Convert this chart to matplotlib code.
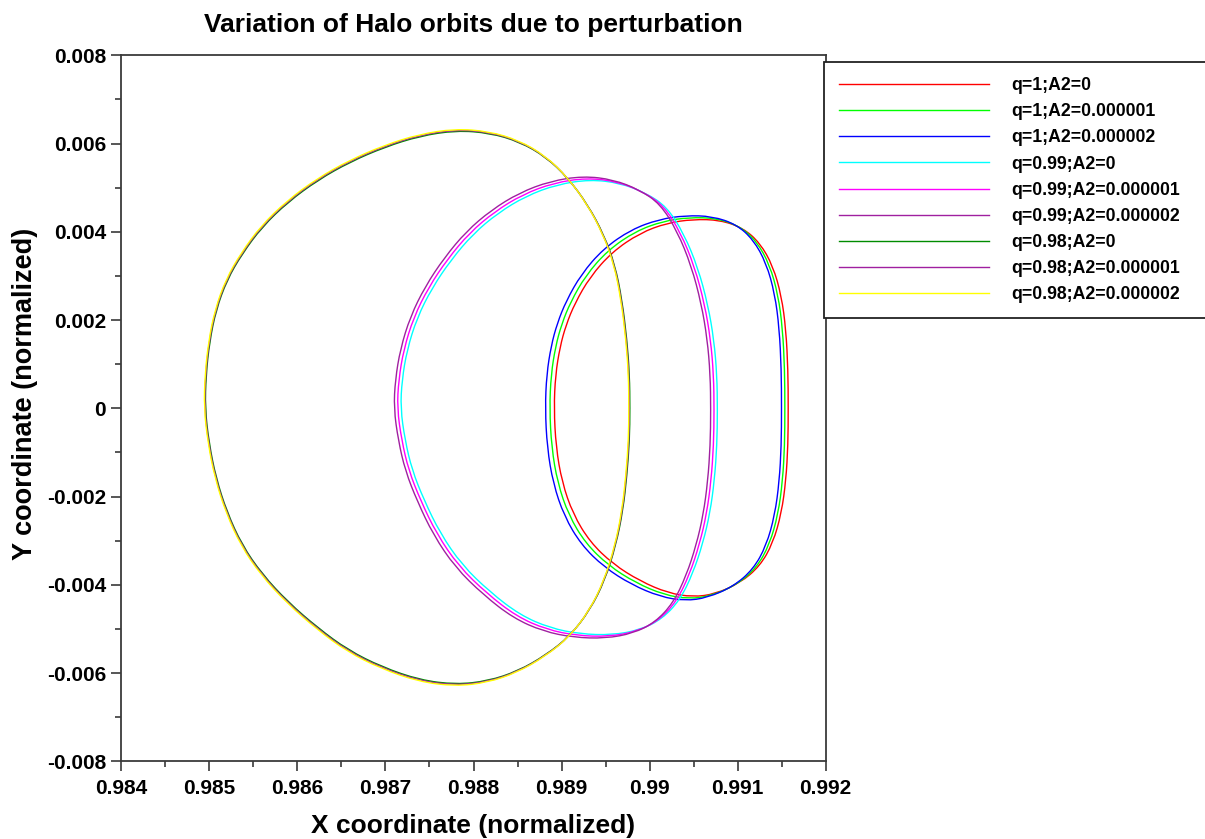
import matplotlib
matplotlib.use("Agg")
import matplotlib.pyplot as plt
import numpy as np
from matplotlib.path import Path
from matplotlib.patches import PathPatch
from matplotlib.ticker import AutoMinorLocator

plt.rcParams['font.family'] = ['Liberation Sans', 'DejaVu Sans']
plt.rcParams['font.weight'] = 'bold'

# orbit samples: x in normalized units, y in units of 1e-3

# q = 1
x_q100_a0 = [0.988914, 0.988931, 0.988982, 0.989051, 0.989153, 0.989323, 0.989573, 0.989891, 0.990198,
             0.990493, 0.990800, 0.991061, 0.991254, 0.991401, 0.991498, 0.991549, 0.991572, 0.991575,
             0.991572, 0.991549, 0.991498, 0.991401, 0.991254, 0.991027, 0.990743, 0.990493, 0.990209,
             0.989891, 0.989584, 0.989323, 0.989130, 0.989005, 0.988937]
y_q100_a0 = [0.000, 0.755, 1.389, 1.888, 2.386, 2.976, 3.542, 3.973, 4.199, 4.283, 4.267, 4.086, 3.746,
             3.225, 2.545, 1.775, 0.868, 0.000, -0.832, -1.625, -2.373, -3.053, -3.574, -3.959, -4.209,
             -4.276, -4.186, -3.914, -3.529, -3.030, -2.395, -1.670, -0.877]

x_q100_a1 = [0.988864, 0.988881, 0.988932, 0.989001, 0.989103, 0.989273, 0.989523, 0.989841, 0.990154,
             0.990449, 0.990756, 0.991023, 0.991216, 0.991363, 0.991460, 0.991511, 0.991534, 0.991537,
             0.991534, 0.991511, 0.991460, 0.991363, 0.991216, 0.990989, 0.990699, 0.990449, 0.990165,
             0.989841, 0.989534, 0.989273, 0.989080, 0.988955, 0.988887]
y_q100_a1 = [0.000, 0.763, 1.403, 1.907, 2.410, 3.006, 3.577, 4.013, 4.241, 4.326, 4.310, 4.127, 3.783,
             3.257, 2.570, 1.793, 0.877, 0.000, -0.840, -1.641, -2.397, -3.084, -3.610, -3.999, -4.251,
             -4.319, -4.228, -3.953, -3.564, -3.060, -2.419, -1.687, -0.886]

x_q100_a2 = [0.988814, 0.988831, 0.988882, 0.988951, 0.989053, 0.989223, 0.989473, 0.989791, 0.990110,
             0.990405, 0.990712, 0.990985, 0.991178, 0.991325, 0.991422, 0.991473, 0.991496, 0.991499,
             0.991496, 0.991473, 0.991422, 0.991325, 0.991178, 0.990951, 0.990655, 0.990405, 0.990121,
             0.989791, 0.989484, 0.989223, 0.989030, 0.988905, 0.988837]
y_q100_a2 = [0.000, 0.770, 1.417, 1.926, 2.434, 3.036, 3.613, 4.052, 4.283, 4.369, 4.352, 4.168, 3.821,
             3.290, 2.596, 1.811, 0.885, 0.000, -0.849, -1.658, -2.420, -3.114, -3.645, -4.038, -4.293,
             -4.362, -4.270, -3.992, -3.600, -3.091, -2.443, -1.703, -0.895]

# q = 0.99
x_q099_a0 = [0.987171, 0.987188, 0.987245, 0.987358, 0.987529, 0.987744, 0.987994, 0.988278, 0.988596,
             0.988948, 0.989323, 0.989664, 0.989959, 0.990198, 0.990391, 0.990550, 0.990663, 0.990731,
             0.990765, 0.990771, 0.990765, 0.990737, 0.990686, 0.990606, 0.990493, 0.990345, 0.990141,
             0.989891, 0.989573, 0.989210, 0.988869, 0.988528, 0.988187, 0.987869, 0.987620, 0.987438,
             0.987302, 0.987222]
y_q099_a0 = [0.000, 0.641, 1.321, 2.046, 2.726, 3.361, 3.950, 4.426, 4.811, 5.072, 5.185, 5.106, 4.879,
             4.562, 3.950, 3.180, 2.341, 1.548, 0.755, -0.039, -0.832, -1.625, -2.373, -3.053, -3.733,
             -4.344, -4.775, -5.024, -5.138, -5.115, -4.979, -4.684, -4.163, -3.551, -2.826, -2.078,
             -1.398, -0.718]

x_q099_a1 = [0.987133, 0.987150, 0.987207, 0.987320, 0.987491, 0.987706, 0.987956, 0.988240, 0.988558,
             0.988910, 0.989285, 0.989626, 0.989921, 0.990160, 0.990353, 0.990512, 0.990625, 0.990693,
             0.990727, 0.990733, 0.990727, 0.990699, 0.990648, 0.990568, 0.990455, 0.990307, 0.990103,
             0.989853, 0.989535, 0.989172, 0.988831, 0.988490, 0.988149, 0.987831, 0.987582, 0.987400,
             0.987264, 0.987184]
y_q099_a1 = [0.000, 0.645, 1.330, 2.060, 2.745, 3.385, 3.978, 4.457, 4.845, 5.108, 5.221, 5.142, 4.913,
             4.594, 3.978, 3.202, 2.357, 1.559, 0.760, -0.039, -0.838, -1.636, -2.390, -3.074, -3.759,
             -4.374, -4.808, -5.059, -5.174, -5.151, -5.014, -4.717, -4.192, -3.576, -2.846, -2.093,
             -1.408, -0.723]

x_q099_a2 = [0.987095, 0.987112, 0.987169, 0.987282, 0.987453, 0.987668, 0.987918, 0.988202, 0.988520,
             0.988872, 0.989247, 0.989588, 0.989883, 0.990122, 0.990315, 0.990474, 0.990587, 0.990655,
             0.990689, 0.990695, 0.990689, 0.990661, 0.990610, 0.990530, 0.990417, 0.990269, 0.990065,
             0.989815, 0.989497, 0.989134, 0.988793, 0.988452, 0.988111, 0.987793, 0.987544, 0.987362,
             0.987226, 0.987146]
y_q099_a2 = [0.000, 0.651, 1.341, 2.077, 2.767, 3.411, 4.009, 4.492, 4.883, 5.148, 5.263, 5.183, 4.952,
             4.630, 4.009, 3.228, 2.376, 1.571, 0.766, -0.040, -0.844, -1.649, -2.409, -3.099, -3.789,
             -4.409, -4.847, -5.099, -5.215, -5.192, -5.054, -4.754, -4.225, -3.604, -2.868, -2.109,
             -1.419, -0.729]

# q = 0.98
x_q098_a0 = [0.984951, 0.984962, 0.985002, 0.985076, 0.985200, 0.985371, 0.985598, 0.985893, 0.986234,
             0.986597, 0.986995, 0.987392, 0.987801, 0.988187, 0.988528, 0.988823, 0.989073, 0.989300,
             0.989482, 0.989607, 0.989687, 0.989743, 0.989772, 0.989777, 0.989772, 0.989743, 0.989698,
             0.989618, 0.989493, 0.989323, 0.989096, 0.988823, 0.988505, 0.988165, 0.987801, 0.987392,
             0.986961, 0.986575, 0.986234, 0.985893, 0.985598, 0.985371, 0.985200, 0.985076, 0.984996]
y_q098_a0 = [0.000, 0.755, 1.503, 2.228, 2.908, 3.497, 4.109, 4.675, 5.174, 5.582, 5.922, 6.171, 6.296,
             6.239, 6.035, 5.695, 5.219, 4.607, 3.927, 3.248, 2.454, 1.548, 0.755, 0.000, -0.718, -1.512,
             -2.305, -3.098, -3.891, -4.571, -5.160, -5.591, -5.954, -6.180, -6.259, -6.158, -5.863,
             -5.478, -4.979, -4.390, -3.755, -3.098, -2.350, -1.580, -0.786]

x_q098_a1 = [0.984945, 0.984956, 0.984996, 0.985070, 0.985194, 0.985365, 0.985592, 0.985887, 0.986228,
             0.986591, 0.986989, 0.987386, 0.987795, 0.988181, 0.988522, 0.988817, 0.989067, 0.989294,
             0.989476, 0.989601, 0.989681, 0.989737, 0.989766, 0.989771, 0.989766, 0.989737, 0.989692,
             0.989612, 0.989487, 0.989317, 0.989090, 0.988817, 0.988499, 0.988159, 0.987795, 0.987386,
             0.986955, 0.986569, 0.986228, 0.985887, 0.985592, 0.985365, 0.985194, 0.985070, 0.984990]
y_q098_a1 = [0.000, 0.757, 1.508, 2.235, 2.917, 3.507, 4.121, 4.689, 5.190, 5.599, 5.940, 6.190, 6.315,
             6.258, 6.053, 5.712, 5.235, 4.621, 3.939, 3.258, 2.461, 1.553, 0.757, 0.000, -0.720, -1.517,
             -2.312, -3.107, -3.903, -4.585, -5.175, -5.608, -5.972, -6.199, -6.278, -6.176, -5.881,
             -5.494, -4.994, -4.403, -3.766, -3.107, -2.357, -1.585, -0.788]

x_q098_a2 = [0.984939, 0.984950, 0.984990, 0.985064, 0.985188, 0.985359, 0.985586, 0.985881, 0.986222,
             0.986585, 0.986983, 0.987380, 0.987789, 0.988175, 0.988516, 0.988811, 0.989061, 0.989288,
             0.989470, 0.989595, 0.989675, 0.989731, 0.989760, 0.989765, 0.989760, 0.989731, 0.989686,
             0.989606, 0.989481, 0.989311, 0.989084, 0.988811, 0.988493, 0.988153, 0.987789, 0.987380,
             0.986949, 0.986563, 0.986222, 0.985881, 0.985586, 0.985359, 0.985188, 0.985064, 0.984984]
y_q098_a2 = [0.000, 0.760, 1.512, 2.241, 2.925, 3.518, 4.134, 4.703, 5.205, 5.615, 5.958, 6.208, 6.334,
             6.276, 6.071, 5.729, 5.250, 4.635, 3.951, 3.267, 2.469, 1.557, 0.760, 0.000, -0.722, -1.521,
             -2.319, -3.117, -3.914, -4.598, -5.191, -5.625, -5.990, -6.217, -6.297, -6.195, -5.898,
             -5.511, -5.009, -4.416, -3.778, -3.117, -2.364, -1.590, -0.791]

labels = ["q=1;A2=0", "q=1;A2=0.000001", "q=1;A2=0.000002",
          "q=0.99;A2=0", "q=0.99;A2=0.000001", "q=0.99;A2=0.000002",
          "q=0.98;A2=0", "q=0.98;A2=0.000001", "q=0.98;A2=0.000002"]
colors = ["#ff0000", "#00ff00", "#0000ff",
          "#00ffff", "#ff00ff", "#a020a0",
          "#008c00", "#a020a0", "#ffff00"]

xticks = [0.984, 0.985, 0.986, 0.987, 0.988, 0.989, 0.990, 0.991, 0.992]
xticklabels = ["0.984", "0.985", "0.986", "0.987", "0.988", "0.989", "0.99", "0.991", "0.992"]
yticks = [-0.008, -0.006, -0.004, -0.002, 0.0, 0.002, 0.004, 0.006, 0.008]
yticklabels = ["-0.008", "-0.006", "-0.004", "-0.002", "0", "0.002", "0.004", "0.006", "0.008"]

orbits = [(x_q100_a0, y_q100_a0), (x_q100_a1, y_q100_a1), (x_q100_a2, y_q100_a2),
          (x_q099_a0, y_q099_a0), (x_q099_a1, y_q099_a1), (x_q099_a2, y_q099_a2),
          (x_q098_a0, y_q098_a0), (x_q098_a1, y_q098_a1), (x_q098_a2, y_q098_a2)]


def closed_curve(xs, ys):
    # smooth closed path: the samples act as quadratic bezier control points
    pts = np.column_stack([xs, np.asarray(ys) * 1e-3])
    mids = (pts + np.roll(pts, -1, axis=0)) / 2
    verts = [mids[-1]]
    codes = [Path.MOVETO]
    for p, m in zip(pts, mids):
        verts += [p, m]
        codes += [Path.CURVE3, Path.CURVE3]
    return Path(verts, codes)


fig = plt.figure(figsize=(12.05, 8.39), dpi=100)
ax = fig.add_axes([0.1007, 0.0926, 0.5845, 0.8415])

for (xs, ys), col, lab in zip(orbits, colors, labels):
    ax.add_patch(PathPatch(closed_curve(xs, ys), fill=False, edgecolor=col, lw=1.0))
    ax.plot([], [], color=col, lw=1.0, label=lab)

ax.set_xlim(0.984, 0.992)
ax.set_ylim(-0.008, 0.008)
ax.set_xticks(xticks)
ax.set_xticklabels(xticklabels)
ax.set_yticks(yticks)
ax.set_yticklabels(yticklabels)
ax.xaxis.set_minor_locator(AutoMinorLocator(2))
ax.yaxis.set_minor_locator(AutoMinorLocator(2))

axis_col = "#3a3a3a"
for sp in ax.spines.values():
    sp.set_color(axis_col)
    sp.set_linewidth(1.3)
ax.tick_params(which="both", direction="out", color=axis_col, width=1.2,
               top=False, right=False, labelsize=15)
ax.tick_params(which="major", length=7)
ax.tick_params(which="minor", length=4)
ax.tick_params(axis="x", pad=6)
ax.tick_params(axis="y", pad=4)

ax.set_title("Variation of Halo orbits due to perturbation", fontsize=19,
             fontweight="bold", pad=17)
ax.set_xlabel("X coordinate (normalized)", fontsize=19, fontweight="bold", labelpad=11)
ax.set_ylabel("Y coordinate (normalized)", fontsize=19.5, fontweight="bold")
ax.yaxis.set_label_coords(-0.118, 0.52)

leg = ax.legend(loc="upper left", bbox_to_anchor=(0.6838, 0.5, 0.35, 0.4261),
                bbox_transform=fig.transFigure, mode="expand", borderaxespad=0,
                prop={"weight": "bold", "size": 12.7}, handlelength=8.5,
                handletextpad=1.25, labelspacing=0.52, borderpad=0.85,
                fancybox=False, framealpha=1)
leg.get_frame().set_edgecolor("#222222")
leg.get_frame().set_linewidth(1.3)

fig.savefig("out.png", dpi=100)
